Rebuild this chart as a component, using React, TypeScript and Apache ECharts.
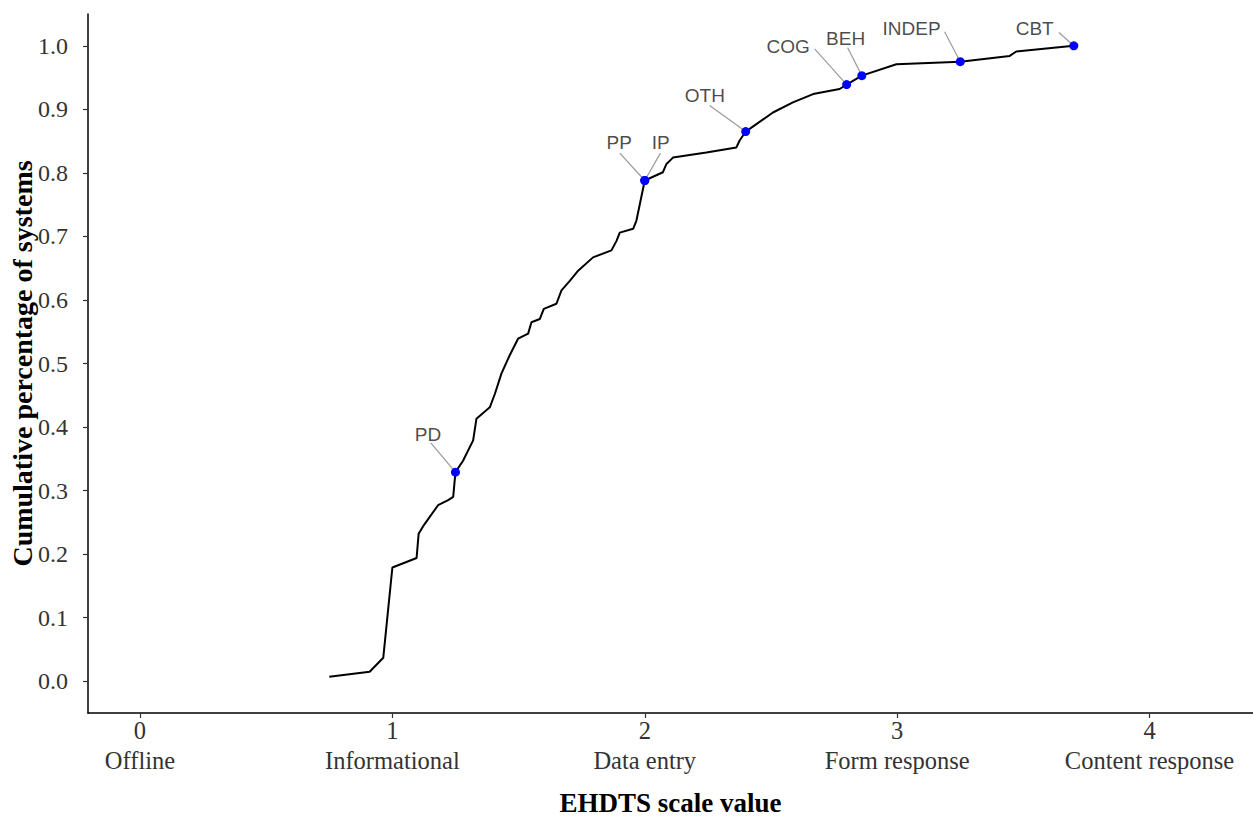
import React, { useEffect, useRef } from "react";
import * as echarts from "echarts";

// Cumulative curve (EHDTS scale value, cumulative share of systems)
const curveX = [
  0.75, 0.91, 0.964, 1.0, 1.096, 1.104, 1.122, 1.181, 1.221, 1.241, 1.25, 1.28, 1.32, 1.333,
  1.386, 1.406, 1.432, 1.465, 1.498, 1.538, 1.551, 1.584, 1.6, 1.65, 1.67, 1.703, 1.736,
  1.795, 1.868, 1.888, 1.901, 1.954, 1.967, 2.0, 2.072, 2.086, 2.112, 2.244, 2.363, 2.376,
  2.4, 2.508, 2.587, 2.667, 2.772, 2.8, 2.86, 2.997, 3.25, 3.446, 3.472, 3.7,
];
const curveY = [
  0.007, 0.015, 0.037, 0.179, 0.194, 0.232, 0.244, 0.277, 0.285, 0.29, 0.329, 0.347, 0.379,
  0.413, 0.431, 0.452, 0.484, 0.513, 0.539, 0.547, 0.565, 0.57, 0.586, 0.594, 0.615, 0.63,
  0.646, 0.667, 0.678, 0.693, 0.706, 0.712, 0.725, 0.788, 0.801, 0.814, 0.824, 0.832, 0.84,
  0.851, 0.865, 0.895, 0.911, 0.924, 0.932, 0.939, 0.953, 0.971, 0.975, 0.984, 0.991, 1.0,
];

// Highlighted systems
const pointNames = ["PD", "PP", "IP", "OTH", "COG", "BEH", "INDEP", "CBT"];
const pointX = [1.25, 2.0, 2.0, 2.4, 2.8, 2.86, 3.25, 3.7];
const pointY = [0.329, 0.788, 0.788, 0.865, 0.939, 0.953, 0.975, 1.0];
// Label anchors (data coordinates, as placed by the repel layout)
const labelX = [1.141, 1.899, 2.063, 2.238, 2.568, 2.796, 3.057, 3.545];
const labelY = [0.388, 0.847, 0.847, 0.922, 0.999, 1.011, 1.027, 1.027];
const lineStartX = [1.152, 1.901, 2.062, 2.257, 2.673, 2.804, 3.188, 3.641];
const lineStartY = [0.375, 0.831, 0.831, 0.906, 0.995, 0.997, 1.022, 1.021];

// Axis ticks
const xTicks = [0, 1, 2, 3, 4];
const xTickNames = ["Offline", "Informational", "Data entry", "Form response", "Content response"];
const yTicks = [0, 0.1, 0.2, 0.3, 0.4, 0.5, 0.6, 0.7, 0.8, 0.9, 1.0];

const serif = "'Liberation Serif', 'Times New Roman', serif";
const sans = "'Liberation Sans', Arial, sans-serif";

export default function App() {
  const ref = useRef<HTMLDivElement>(null);

  useEffect(() => {
    if (!ref.current) return;
    const chart = echarts.init(ref.current, undefined, { renderer: "svg" });

    const connectorSeries = pointNames.map((n, i) => ({
      type: "line",
      name: "conn-" + n,
      data: [
        [lineStartX[i], lineStartY[i]],
        [pointX[i], pointY[i]],
      ],
      symbol: "none",
      silent: true,
      lineStyle: { color: "#9a9a9a", width: 1.2 },
      z: 2,
    }));

    const option = {
      animation: false,
      backgroundColor: "#ffffff",
      grid: {
        left: 88,
        right: 0,
        top: 14,
        bottom: 103,
        containLabel: false,
        outerBoundsMode: "none",
      },
      xAxis: {
        type: "value",
        min: -0.206,
        max: 4.41,
        name: "EHDTS scale value",
        nameLocation: "middle",
        nameGap: 76,
        nameMoveOverlap: false,
        nameTextStyle: {
          fontFamily: serif,
          fontWeight: "bold",
          fontSize: 27,
          lineHeight: 27,
          color: "#000",
        },
        axisLine: { show: true, onZero: false, lineStyle: { color: "#000", width: 1.5 } },
        axisTick: { show: true, length: 5, customValues: xTicks, lineStyle: { color: "#333", width: 1.2 } },
        splitLine: { show: false },
        axisLabel: {
          customValues: xTicks,
          margin: 2,
          fontFamily: serif,
          fontSize: 24.5,
          color: "#333",
          lineHeight: 30,
          formatter: (v: number) => {
            const idx = xTicks.indexOf(Math.round(v));
            return String(Math.round(v)) + "\n" + (idx >= 0 ? xTickNames[idx] : "");
          },
        },
      },
      yAxis: {
        type: "value",
        min: -0.05,
        max: 1.05,
        name: "Cumulative percentage of systems",
        nameLocation: "middle",
        nameGap: 52,
        nameMoveOverlap: false,
        nameRotate: 90,
        nameTextStyle: {
          fontFamily: serif,
          fontWeight: "bold",
          fontSize: 28,
          lineHeight: 28,
          color: "#000",
        },
        axisLine: { show: true, onZero: false, lineStyle: { color: "#000", width: 1.5 } },
        axisTick: { show: true, length: 5, customValues: yTicks, lineStyle: { color: "#333", width: 1.2 } },
        splitLine: { show: false },
        axisLabel: {
          customValues: yTicks,
          margin: 20,
          fontFamily: serif,
          fontSize: 24,
          color: "#333",
          formatter: (v: number) => v.toFixed(1),
        },
      },
      series: [
        {
          type: "line",
          name: "curve",
          data: curveX.map((x, i) => [x, curveY[i]]),
          symbol: "none",
          lineStyle: { color: "#000", width: 2 },
          z: 3,
        },
        ...connectorSeries,
        {
          type: "scatter",
          name: "points",
          data: pointX.map((x, i) => [x, pointY[i]]),
          symbol: "circle",
          symbolSize: 9,
          itemStyle: { color: "#0000ff", opacity: 1 },
          z: 5,
        },
        {
          type: "scatter",
          name: "labels",
          data: labelX.map((x, i) => ({ value: [x, labelY[i]], name: pointNames[i] })),
          symbolSize: 1,
          itemStyle: { color: "rgba(0,0,0,0)" },
          label: {
            show: true,
            position: "inside",
            formatter: (p: any) => p.name,
            fontFamily: sans,
            fontSize: 19,
            color: "#1a1a1a",
            align: "center",
            verticalAlign: "middle",
          },
          z: 6,
        },
      ],
    };

    chart.setOption(option as any);
    return () => chart.dispose();
  }, []);

  return (
    <div
      ref={ref}
      style={{ position: "fixed", left: 0, top: 0, width: 1253, height: 816, background: "#fff" }}
    />
  );
}
